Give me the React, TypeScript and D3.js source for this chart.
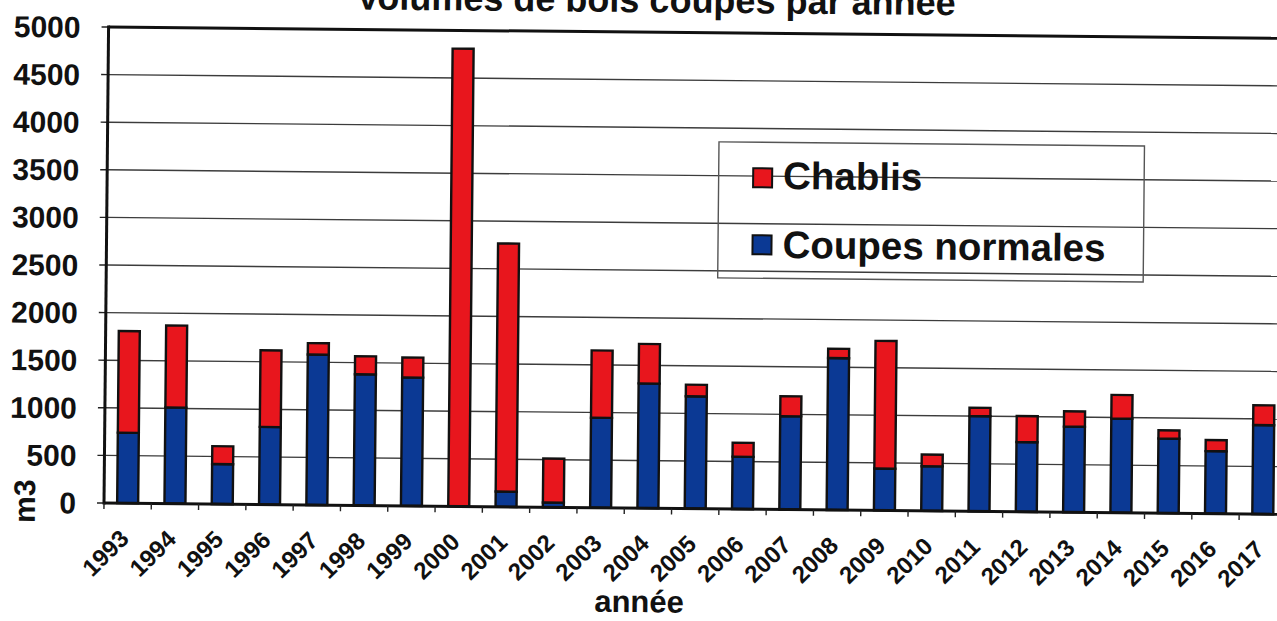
import React from 'react';
import * as d3 from 'd3';

const years = ['1993','1994','1995','1996','1997','1998','1999','2000','2001','2002','2003','2004','2005','2006','2007','2008','2009','2010','2011','2012','2013','2014','2015','2016','2017'];
const coupesNormales = [740, 1010, 420, 815, 1580, 1378, 1349, 0, 160, 50, 945, 1310, 1180, 550, 980, 1596, 440, 469, 1000, 732, 899, 988, 783, 656, 935];
const chablis = [1068, 861, 188, 805, 120, 189, 210, 4808, 2606, 461, 707, 415, 122, 147, 210, 98, 1341, 123, 88, 274, 161, 249, 87, 116, 208];
const yTicks = [0, 500, 1000, 1500, 2000, 2500, 3000, 3500, 4000, 4500, 5000];
const seriesNames = ['Chablis', 'Coupes normales'];
const titleText = 'Volumes de bois coupés par année';
const xTitle = 'année';
const yTitle = 'm3';

const RED = '#e8161d';
const BLUE = '#0b3994';
const FONT = '"Liberation Sans", Arial, sans-serif';

export default function App() {
  const W = 1277, H = 621;
  const left = 104, zeroY = 503, topY = 27;
  const step = 47.3;
  const x = d3.scaleBand<string>().domain(years).range([left, left + step * years.length]).padding(0);
  const y = d3.scaleLinear().domain([0, 5000]).range([zeroY, topY]);
  const barW = 21;
  const right = left + step * years.length + 10;

  return (
    <svg width={W} height={H} style={{ position: 'absolute', left: 0, top: 0, background: '#fff' }} fontFamily={FONT}>
      <rect x={0} y={0} width={W} height={H} fill="#fff" />
      <g transform={`rotate(0.55, ${left}, ${zeroY})`}>
        <text x={651} y={7} textAnchor="middle" fontSize={36} fontWeight="bold" fill="#111">{titleText}</text>
        {/* gridlines */}
        {yTicks.filter(t => t > 0 && t < 5000).map(t => (
          <line key={'g' + t} x1={left} x2={right} y1={y(t)} y2={y(t)} stroke="#3c3c3c" strokeWidth={1.4} />
        ))}
        {/* y ticks */}
        {yTicks.map(t => (
          <line key={'yt' + t} x1={left - 7} x2={left} y1={y(t)} y2={y(t)} stroke="#222" strokeWidth={1.4} />
        ))}
        {yTicks.map(t => (
          <text key={'yl' + t} x={76} y={y(t)} dy="0.36em" textAnchor="end" fontSize={30} fontWeight="bold" fill="#111">{t}</text>
        ))}
        {/* bars */}
        {years.map((yr, i) => {
          const cx = (x(yr) as number) + x.bandwidth() / 2;
          const b = coupesNormales[i];
          const r = chablis[i];
          return (
            <g key={yr}>
              {b > 0 && <rect x={cx - barW / 2} y={y(b)} width={barW} height={y(0) - y(b)} fill={BLUE} stroke="#111" strokeWidth={2.4} />}
              <rect x={cx - barW / 2} y={y(b + r)} width={barW} height={y(b) - y(b + r)} fill={RED} stroke="#111" strokeWidth={2.4} />
            </g>
          );
        })}
        {/* frame */}
        <line x1={left} x2={right} y1={y(5000)} y2={y(5000)} stroke="#111" strokeWidth={3} />
        <line x1={left} x2={left} y1={y(5000) - 1.5} y2={y(0) + 1.5} stroke="#111" strokeWidth={3} />
        <line x1={left} x2={right} y1={y(0)} y2={y(0)} stroke="#111" strokeWidth={3} />
        {/* x ticks */}
        {years.map(yr => (
          <line key={'xt' + yr} x1={(x(yr) as number)} x2={(x(yr) as number)} y1={zeroY} y2={zeroY + 6} stroke="#222" strokeWidth={1.4} />
        ))}
        {years.map(yr => {
          const cx = (x(yr) as number) + x.bandwidth() / 2;
          const ax = cx + 3, ay = zeroY + 37;
          return (
            <text key={'xl' + yr} x={ax} y={ay} textAnchor="end" fontSize={24} fontWeight="bold" fill="#111" transform={`rotate(-45, ${ax}, ${ay})`}>{yr}</text>
          );
        })}
        <text x={640} y={607} textAnchor="middle" fontSize={31} fontWeight="bold" fill="#111">{xTitle}</text>
        <text x={35} y={502} textAnchor="middle" fontSize={30} fontWeight="bold" fill="#111" transform={`rotate(-90, 35, 502)`}>{yTitle}</text>
        {/* legend */}
        <rect x={715.5} y={136} width={425.5} height={136} fill="none" stroke="#555" strokeWidth={1.4} />
        <rect x={750} y={162} width={19} height={19} fill={RED} stroke="#111" strokeWidth={2} />
        <text x={780} y={182.5} fontSize={38.5} fontWeight="bold" fill="#111">{seriesNames[0]}</text>
        <rect x={750} y={229} width={19} height={19} fill={BLUE} stroke="#111" strokeWidth={2} />
        <text x={780} y={251.5} fontSize={38.5} fontWeight="bold" fill="#111">{seriesNames[1]}</text>
      </g>
    </svg>
  );
}
